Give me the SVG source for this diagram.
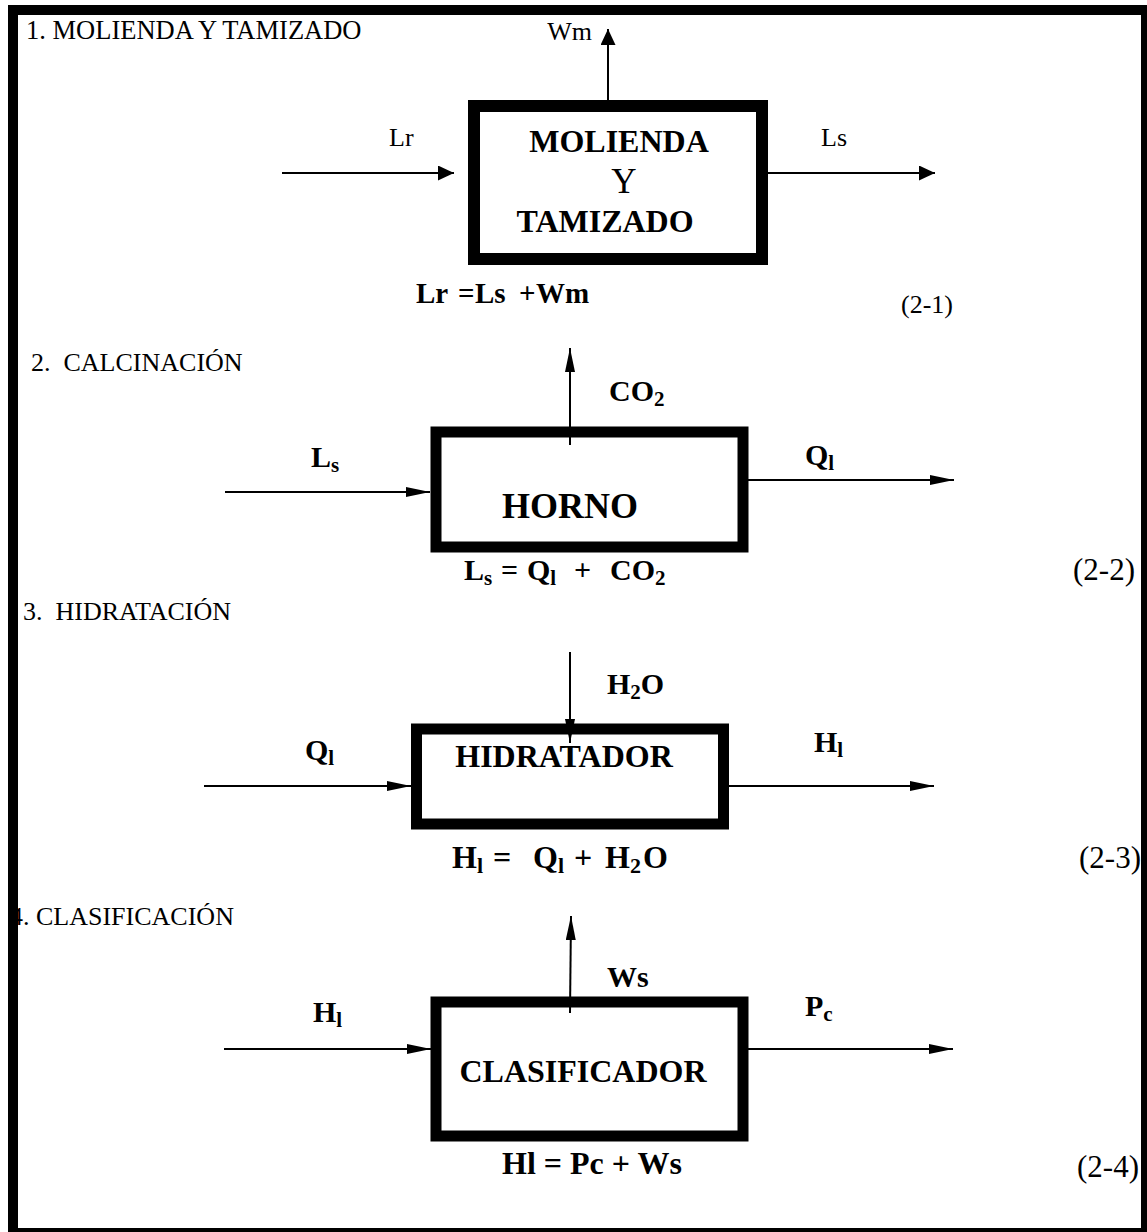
<svg xmlns="http://www.w3.org/2000/svg" width="1147" height="1232" viewBox="0 0 1147 1232">
<style>
.r{font-family:"Liberation Serif","Times New Roman",serif;fill:#000}
.b{font-family:"Liberation Serif","Times New Roman",serif;font-weight:bold;fill:#000}
.box{fill:#fff;stroke:#000}
.ln{stroke:#000;stroke-width:2;fill:none}
.a1{marker-end:url(#mA)}
.a2{marker-end:url(#mB)}
</style>
<defs>
<marker id="mA" markerUnits="userSpaceOnUse" viewBox="0 0 16 15" refX="16" refY="7.5" markerWidth="16" markerHeight="15" orient="auto"><path d="M0,0 L16,7.5 L0,15 z" fill="#000"/></marker>
<marker id="mB" markerUnits="userSpaceOnUse" viewBox="0 0 24 10" refX="24" refY="5" markerWidth="24" markerHeight="10" orient="auto"><path d="M0,0 L24,5 L0,10 z" fill="#000"/></marker>
</defs>
<rect width="1147" height="1232" fill="#fff"/>

<g id="titles">
<text class="r" x="26" y="39" font-size="26.5">1. MOLIENDA Y TAMIZADO</text>
<text class="r" x="31" y="371" font-size="26" xml:space="preserve">2.  CALCINACIÓN</text>
<text class="r" x="23" y="620" font-size="26" xml:space="preserve">3.  HIDRATACIÓN</text>
<text class="r" x="10" y="925" font-size="26">4. CLASIFICACIÓN</text>
</g>

<g id="node-molienda">
<rect class="box" x="474" y="106" width="288" height="153" stroke-width="12"/>
<text class="b" x="619" y="152" font-size="32" text-anchor="middle">MOLIENDA</text>
<text class="r" x="624" y="193" font-size="35" text-anchor="middle">Y</text>
<text class="b" x="605" y="232" font-size="32" text-anchor="middle">TAMIZADO</text>
</g>

<g id="node-horno">
<rect class="box" x="436" y="432" width="307" height="115" stroke-width="11"/>
<text class="b" x="570" y="518" font-size="36" text-anchor="middle">HORNO</text>
</g>

<g id="node-hidratador">
<rect class="box" x="416.5" y="729" width="307" height="95" stroke-width="11"/>
<text class="b" x="564" y="767" font-size="32" text-anchor="middle">HIDRATADOR</text>
</g>

<g id="node-clasificador">
<rect class="box" x="436" y="1002" width="307" height="134" stroke-width="11"/>
<text class="b" x="583" y="1082" font-size="32" text-anchor="middle">CLASIFICADOR</text>
</g>

<g id="connectors">
<line class="ln a1" x1="282" y1="173" x2="454" y2="173"/>
<line class="ln a1" x1="768" y1="173" x2="935" y2="173"/>
<line class="ln a1" x1="608" y1="100" x2="608" y2="29"/>
<line class="ln a2" x1="225" y1="492" x2="430" y2="492"/>
<line class="ln a2" x1="570" y1="445" x2="570" y2="348"/>
<line class="ln a2" x1="748" y1="480" x2="954" y2="480"/>
<line class="ln a2" x1="204" y1="786" x2="411" y2="786"/>
<line class="ln a2" x1="570" y1="652" x2="570" y2="743"/>
<line class="ln a2" x1="729" y1="786" x2="934" y2="786"/>
<line class="ln a2" x1="224" y1="1049" x2="431" y2="1049"/>
<line class="ln a2" x1="570" y1="1013" x2="571" y2="916"/>
<line class="ln a2" x1="748" y1="1049" x2="953" y2="1049"/>
</g>

<g id="labels">
<text class="r" x="389" y="146" font-size="26">Lr</text>
<text class="r" x="821" y="146" font-size="26">Ls</text>
<text class="r" x="592" y="40" font-size="26" text-anchor="end">Wm</text>
<text class="b" x="311" y="467" font-size="30">L<tspan font-size="21" dy="5">s</tspan></text>
<text class="b" x="609" y="401" font-size="30">CO<tspan font-size="21" dy="5">2</tspan></text>
<text class="b" x="805" y="465" font-size="30">Q<tspan font-size="21" dy="5">l</tspan></text>
<text class="b" x="305" y="760" font-size="30">Q<tspan font-size="21" dy="5">l</tspan></text>
<text class="b" x="607" y="694" font-size="30">H<tspan font-size="21" dy="5">2</tspan><tspan dy="-5">O</tspan></text>
<text class="b" x="814" y="752" font-size="30">H<tspan font-size="21" dy="5">l</tspan></text>
<text class="b" x="313" y="1022" font-size="30">H<tspan font-size="21" dy="5">l</tspan></text>
<text class="b" x="607" y="987" font-size="30">Ws</text>
<text class="b" x="805" y="1016" font-size="30">P<tspan font-size="21" dy="5">c</tspan></text>
</g>

<g id="equations">
<text class="b" y="303" font-size="29"><tspan x="416">Lr</tspan><tspan x="458">=</tspan><tspan x="475">Ls</tspan><tspan x="519">+</tspan><tspan x="536">Wm</tspan></text>
<text class="r" x="901" y="313" font-size="26">(2-1)</text>
<text class="b" y="580" font-size="30"><tspan x="464">L</tspan><tspan font-size="21" dy="5">s</tspan><tspan x="501" dy="-5">=</tspan><tspan x="527">Q</tspan><tspan font-size="21" dy="5">l</tspan><tspan x="574" dy="-5">+</tspan><tspan x="610">CO</tspan><tspan font-size="21" dy="5">2</tspan></text>
<text class="r" x="1073" y="580" font-size="31">(2-2)</text>
<text class="b" y="868" font-size="32"><tspan x="452">H</tspan><tspan font-size="22" dy="5">l</tspan><tspan x="493" dy="-5">=</tspan><tspan x="533">Q</tspan><tspan font-size="22" dy="5">l</tspan><tspan x="574" dy="-5">+</tspan><tspan x="605">H</tspan><tspan font-size="22" dy="5">2</tspan><tspan x="643" dy="-5">O</tspan></text>
<text class="r" x="1079" y="868" font-size="31">(2-3)</text>
<text class="b" x="502" y="1174" font-size="32">Hl = Pc + Ws</text>
<text class="r" x="1077" y="1177" font-size="31">(2-4)</text>
</g>

<rect id="frame" x="13" y="10" width="1133" height="1223" fill="none" stroke="#000" stroke-width="10"/>
</svg>
